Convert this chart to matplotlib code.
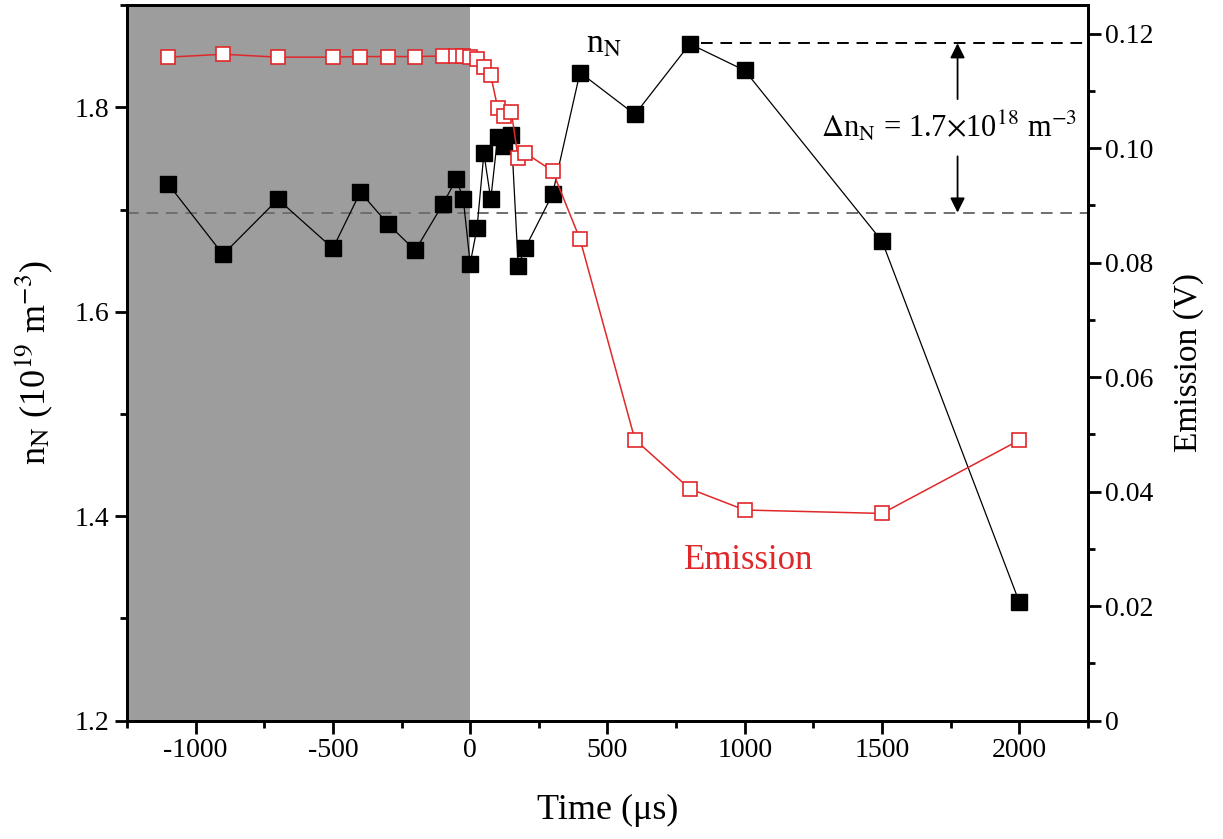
import numpy as np
import matplotlib
matplotlib.use('Agg')
import matplotlib.pyplot as plt
from matplotlib.ticker import MultipleLocator

plt.rcParams['font.family'] = ['Liberation Serif', 'DejaVu Serif']
plt.rcParams['mathtext.fontset'] = 'stix'
plt.rcParams['axes.unicode_minus'] = False

# data
time = [-1100, -900, -700, -500, -400, -300, -200, -100, -50, -25, 0, 25, 50, 75,
        100, 125, 150, 175, 200, 300, 400, 600, 800, 1000, 1500, 2000]
n_N = [1.725, 1.656, 1.710, 1.662, 1.717, 1.686, 1.660, 1.705, 1.730, 1.710, 1.647,
       1.682, 1.755, 1.710, 1.771, 1.762, 1.773, 1.645, 1.662, 1.715, 1.834, 1.793,
       1.862, 1.836, 1.669, 1.316]
emission = [0.1159, 0.1164, 0.1159, 0.1159, 0.1160, 0.1160, 0.1160, 0.1161, 0.1161,
            0.1161, 0.1160, 0.1156, 0.1142, 0.1127, 0.1071, 0.1057, 0.1063, 0.0982,
            0.0992, 0.0960, 0.0841, 0.0491, 0.0405, 0.0368, 0.0362, 0.0490]
base_level = 1.697
peak_level = 1.8626

fig = plt.figure(figsize=(12.23, 8.39), dpi=100)
ax = fig.add_axes([0.1038, 0.141, 0.7858, 0.853])
ax2 = ax.twinx()

# shaded region before t = 0
ax.axvspan(-1250, 0, color='#9d9d9d', lw=0, zorder=0)

ax.plot(time, n_N, color='black', lw=0.9, marker='s', ms=11, mfc='black', mec='black', zorder=3)
ax2.plot(time, emission, color='#e0282a', lw=1.1, marker='s', ms=10, mfc='white',
         mec='#e0282a', mew=1.2, zorder=3)

# reference levels
ax.axhline(base_level, color='#6e6e6e', lw=1.4, ls=(0, (6, 4)), zorder=1)
ax.plot([840, 2250], [peak_level, peak_level], color='black', lw=1.4, ls=(0, (6, 4)), zorder=1)

# Δn arrows
ax.annotate('', xy=(1775, peak_level), xytext=(1775, 1.808),
            arrowprops=dict(arrowstyle='-|>', color='black', lw=1.3, mutation_scale=22,
                            shrinkA=0, shrinkB=0))
ax.annotate('', xy=(1775, base_level), xytext=(1775, 1.752),
            arrowprops=dict(arrowstyle='-|>', color='black', lw=1.3, mutation_scale=22,
                            shrinkA=0, shrinkB=0))
ax.text(1745, 1.781, r'$\Delta$n$_\mathrm{N}$ = 1.7$\times$10$^{18}$ m$^{-3}$',
        fontsize=22, ha='center', va='center')
ax.text(485, 1.862, r'n$_\mathrm{N}$', fontsize=24, ha='center', va='center')
ax.text(1015, 1.357, 'Emission', fontsize=25, color='#e0282a', ha='center', va='center')

ax.set_xlim(-1250, 2250)
ax.set_ylim(1.2, 1.9)
ax2.set_ylim(0, 0.125)

ax.xaxis.set_major_locator(MultipleLocator(500))
ax.xaxis.set_minor_locator(MultipleLocator(250))
ax.yaxis.set_minor_locator(MultipleLocator(0.1))
ax2.yaxis.set_minor_locator(MultipleLocator(0.01))
ax2.set_yticks([0, 0.02, 0.04, 0.06, 0.08, 0.10, 0.12])
ax2.set_yticklabels(['0', '0.02', '0.04', '0.06', '0.08', '0.10', '0.12'])
ax.set_yticks([1.2, 1.4, 1.6, 1.8])
ax.set_yticklabels(['1.2', '1.4', '1.6', '1.8'])

for a in (ax, ax2):
    for s in a.spines.values():
        s.set_linewidth(2.0)
    a.tick_params(which='major', direction='out', length=9, width=2.0, labelsize=20)
    a.tick_params(which='minor', direction='out', length=5, width=2.0)

ax.set_xlabel('Time (μs)', fontsize=26, labelpad=22)
ax.set_ylabel(r'n$_\mathrm{N}$ (10$^{19}$ m$^{-3}$)', fontsize=26, labelpad=14)
ax2.set_ylabel('Emission (V)', fontsize=24, labelpad=14)

fig.savefig('out.png', dpi=100)
